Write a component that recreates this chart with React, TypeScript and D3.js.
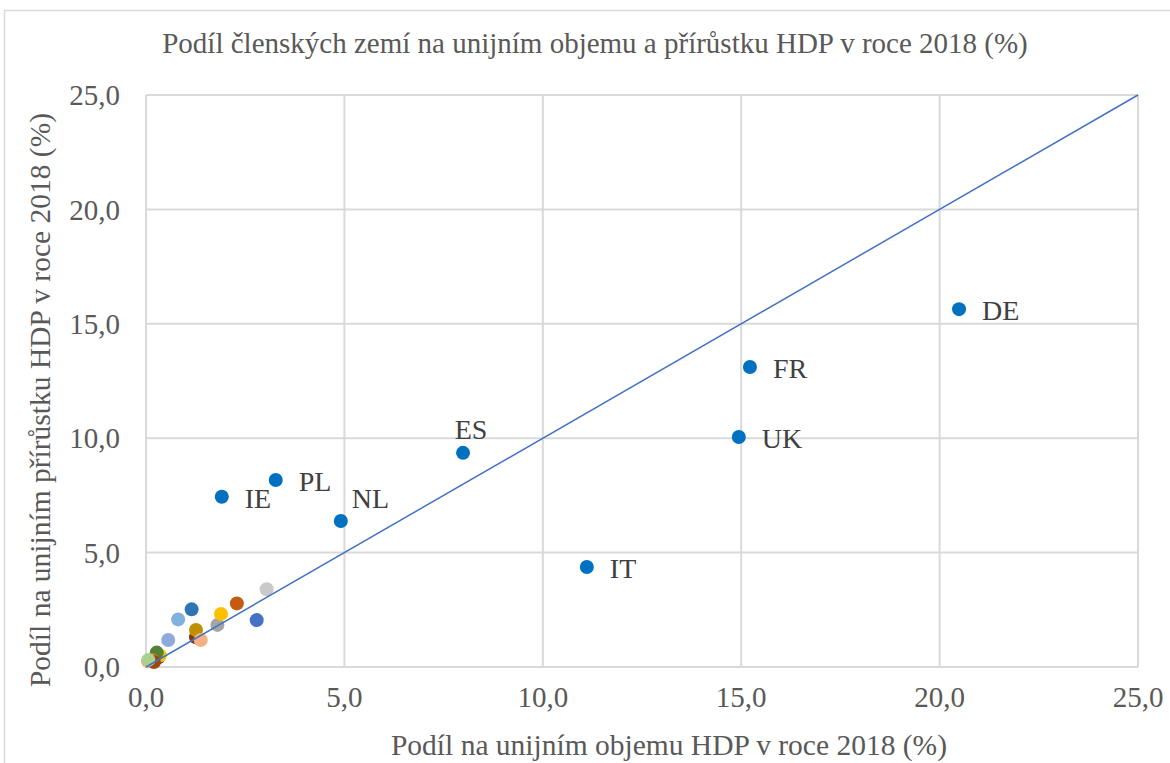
import * as d3 from 'd3';
import React, { useEffect, useRef } from 'react';

// labelled member states: share of EU GDP volume (x) and of GDP growth (y), %
const countries = ['DE', 'FR', 'UK', 'IT', 'ES', 'NL', 'PL', 'IE'];
const volumeShare = [20.49, 15.22, 14.94, 11.11, 7.99, 4.91, 3.27, 1.91];
const growthShare = [15.64, 13.11, 10.05, 4.37, 9.36, 6.38, 8.17, 7.44];

// remaining (unlabelled) member states
const otherVolume = [3.04, 2.79, 2.29, 1.8, 1.89, 1.15, 0.81, 1.26, 1.26, 1.38, 0.56, 0.05, 0.31, 0.35, 0.27, 0.15, 0.2, 0.06];
const otherGrowth = [3.4, 2.05, 2.78, 1.84, 2.32, 2.52, 2.08, 1.3, 1.62, 1.18, 1.18, 0.25, 0.42, 0.5, 0.63, 0.3, 0.22, 0.31];
const otherColors = ['#C9C9C9', '#4472C4', '#C55A11', '#A5A5A5', '#FFC000', '#2E75B6', '#7FB0DE', '#843C0C', '#BF9000', '#F4B183', '#8FAADC', '#F4B183', '#203864', '#FFC000', '#548235', '#ED7D31', '#9E480E', '#A9D18E'];

const ticks = [0, 5, 10, 15, 20, 25];

const title = 'Podíl členských zemí na unijním objemu a přírůstku HDP v roce 2018 (%)';
const xTitle = 'Podíl na unijním objemu HDP v roce 2018 (%)';
const yTitle = 'Podíl na unijním přírůstku HDP v roce 2018 (%)';

// label placement per country (right of point unless noted)
const labelPlacement: Record<string, string> = { ES: 'above', NL: 'aboveRight' };

const W = 1170;
const H = 763;
const FONT = '"Liberation Serif", "Times New Roman", serif';

const App = () => {
  const ref = useRef<SVGSVGElement>(null);

  useEffect(() => {
    const svg = d3.select(ref.current);
    svg.selectAll('*').remove();

    const margin = { top: 95, right: 32, bottom: 96, left: 146 };
    const width = W - margin.left - margin.right;
    const height = H - margin.top - margin.bottom;

    const x = d3.scaleLinear().domain([0, 25]).range([margin.left, margin.left + width]);
    const y = d3.scaleLinear().domain([0, 25]).range([margin.top + height, margin.top]);
    const fmt = (v: number) => d3.format('.1f')(v).replace('.', ',');

    // chart border
    svg.append('rect')
      .attr('x', 4.5).attr('y', 10.5)
      .attr('width', W + 10).attr('height', H + 10)
      .attr('fill', 'white').attr('stroke', '#D9D9D9').attr('stroke-width', 1.5);

    // gridlines
    const grid = svg.append('g').attr('stroke', '#D9D9D9').attr('stroke-width', 2);
    ticks.forEach(t => {
      grid.append('line').attr('x1', x(0)).attr('x2', x(25)).attr('y1', y(t)).attr('y2', y(t));
      grid.append('line').attr('x1', x(t)).attr('x2', x(t)).attr('y1', y(0)).attr('y2', y(25));
    });

    // tick labels
    const tickG = svg.append('g').attr('font-family', FONT).attr('font-size', 29).attr('fill', '#595959');
    ticks.forEach(t => {
      tickG.append('text').attr('x', x(0) - 26).attr('y', y(t)).attr('dy', '0.35em')
        .attr('text-anchor', 'end').text(fmt(t));
      tickG.append('text').attr('x', x(t)).attr('y', y(0) + 30).attr('dy', '0.35em')
        .attr('text-anchor', 'middle').text(fmt(t));
    });

    // titles
    svg.append('text').attr('x', 595).attr('y', 43).attr('dy', '0.35em')
      .attr('text-anchor', 'middle').attr('font-family', FONT).attr('font-size', 29)
      .attr('fill', '#595959').text(title);
    svg.append('text').attr('x', (x(0) + x(25)) / 2 + 27).attr('y', 745).attr('dy', '0.35em')
      .attr('text-anchor', 'middle').attr('font-family', FONT).attr('font-size', 29.5)
      .attr('fill', '#595959').text(xTitle);
    svg.append('text')
      .attr('transform', `translate(40, ${(y(0) + y(25)) / 2 + 19}) rotate(-90)`)
      .attr('dy', '0.35em')
      .attr('text-anchor', 'middle').attr('font-family', FONT).attr('font-size', 29.5)
      .attr('fill', '#595959').text(yTitle);

    // unlabelled points
    otherVolume.forEach((v, i) => {
      svg.append('circle').attr('cx', x(v)).attr('cy', y(otherGrowth[i]))
        .attr('r', 7).attr('fill', otherColors[i]);
    });

    // labelled points
    const labels = svg.append('g').attr('font-family', FONT).attr('font-size', 28).attr('fill', '#404040');
    countries.forEach((c, i) => {
      const cx = x(volumeShare[i]);
      const cy = y(growthShare[i]);
      svg.append('circle').attr('cx', cx).attr('cy', cy).attr('r', 7).attr('fill', '#0070C0');
      const place = labelPlacement[c] || 'right';
      const t = labels.append('text').text(c);
      if (place === 'above') {
        t.attr('x', cx + 8).attr('y', cy - 24).attr('dy', '0.35em').attr('text-anchor', 'middle');
      } else if (place === 'aboveRight') {
        t.attr('x', cx + 11).attr('y', cy - 23).attr('dy', '0.35em');
      } else {
        t.attr('x', cx + 23).attr('y', cy + 1).attr('dy', '0.35em');
      }
    });

    // 1:1 reference line
    svg.append('line')
      .attr('x1', x(0)).attr('y1', y(0)).attr('x2', x(25)).attr('y2', y(25))
      .attr('stroke', '#4472C4').attr('stroke-width', 1.5);
  }, []);

  return (
    <svg
      ref={ref}
      width={W}
      height={H}
      style={{ position: 'absolute', left: 0, top: 0, background: 'white' }}
    />
  );
};

export default App;
